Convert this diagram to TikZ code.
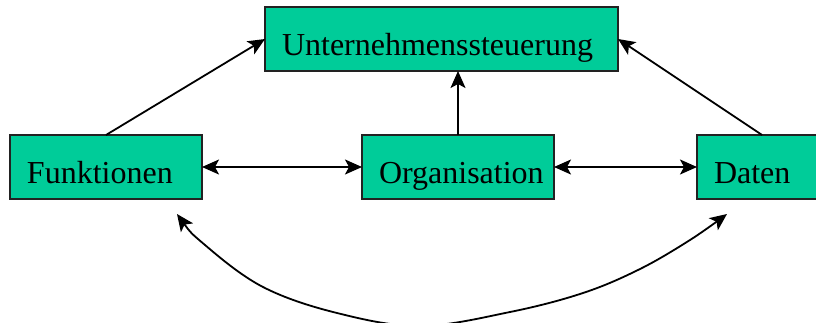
\documentclass[tikz,border=0pt]{standalone}
\usepackage{fontspec}
\setmainfont{Liberation Serif}
\usetikzlibrary{arrows.meta,calc}

\definecolor{boxgreen}{RGB}{0,204,153}
\definecolor{boxline}{RGB}{34,34,34}

\tikzset{
  block/.style={draw=boxline, line width=1.5pt, fill=boxgreen, rectangle,
    anchor=north west, inner xsep=17pt, inner ysep=0pt, outer sep=0pt,
    text height=48pt, text depth=16pt, align=left,
    font=\fontsize{32}{38}\selectfont},
  link/.style={line width=1.8pt, draw=black,
    -{Stealth[length=17pt,width=15pt,inset=4pt]}},
  biglink/.style={line width=1.8pt, draw=black,
    {Stealth[length=17pt,width=15pt,inset=4pt]}-{Stealth[length=17pt,width=15pt,inset=4pt]}}
}

\begin{document}
\begin{tikzpicture}[x=1pt,y=-1pt]
  \useasboundingbox (0,0) rectangle (816,322);
  \clip (0,0) rectangle (816,322);

  % boxes
  \node[block, text width=319pt] (unt) at (265,7) {Unternehmenssteuerung};
  \node[block, text width=158pt] (fun) at (10,135) {Funktionen};
  \node[block, text width=158pt] (org) at (362,135) {Organisation};
  \node[block, text width=158pt] (dat) at (697,135) {Daten};

  % upward links
  \draw[link] (fun.north) -- (unt.west);
  \draw[link] ([xshift=65pt]dat.north west) -- (unt.east);
  \draw[link] (org.north) -- (org.north |- unt.south);

  % horizontal links
  \draw[biglink] (fun.east) -- (org.west);
  \draw[biglink] (org.east) -- (dat.west);

  % lower arc between Funktionen and Daten
  \coordinate (arcL) at (177,214);
  \coordinate (arcR) at (727,214);
  \draw[biglink] plot[smooth, tension=0.6] coordinates {
    (arcL) (205,245) (263,287) (337,313) (420,326)
    (510,312) (583,293) (640,269) (690,240) (arcR)};
\end{tikzpicture}
\end{document}
